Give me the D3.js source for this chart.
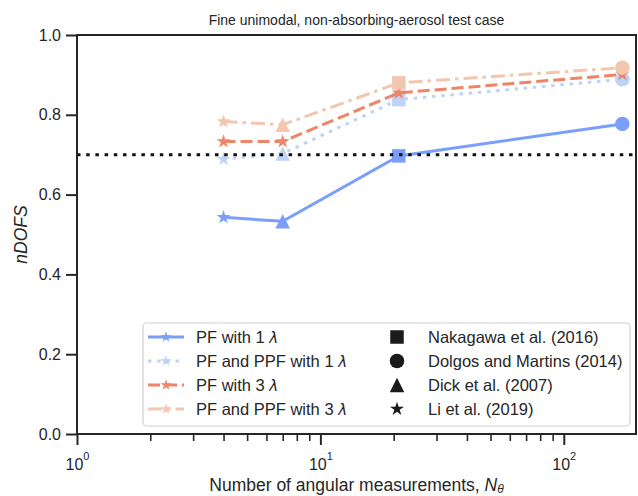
<!DOCTYPE html>
<html>
<head>
<meta charset="utf-8">
<script src="https://cdn.jsdelivr.net/npm/d3@7"></script>
<style>
  html, body { margin: 0; padding: 0; background: #ffffff; }
  svg { display: block; }
  text { font-family: "Liberation Sans", Arial, Helvetica, sans-serif; fill: #262626; }
</style>
</head>
<body>
<svg id="chart" width="638" height="496"></svg>
<script>
// ---------------- data ----------------
const nAngles = [4, 7, 21, 174];
const studyMarkers = ["star", "triangle", "square", "circle"];
const pf1 = [0.543, 0.533, 0.697, 0.777];
const pfppf1 = [0.689, 0.703, 0.838, 0.889];
const pf3 = [0.733, 0.733, 0.855, 0.901];
const pfppf3 = [0.783, 0.775, 0.880, 0.918];
const threshold = 0.7;
const yTicks = [0.0, 0.2, 0.4, 0.6, 0.8, 1.0];
const xMajorTicks = [1, 10, 100];
const xMinorTicks = [2,3,4,5,6,7,8,9,20,30,40,50,60,70,80,90];
const studyNames = ["Nakagawa et al. (2016)", "Dolgos and Martins (2014)", "Dick et al. (2007)", "Li et al. (2019)"];
const studyLegendMarkers = ["square", "circle", "triangle", "star"];
const titleText = "Fine unimodal, non-absorbing-aerosol test case";

const series = [
  { name: "PF with 1 ", values: pf1, color: "#7b9ff9", dash: null, markers: studyMarkers },
  { name: "PF and PPF with 1 ", values: pfppf1, color: "#bfd3f6", dash: "3.5,5.7", markers: studyMarkers },
  { name: "PF with 3 ", values: pf3, color: "#ee8468", dash: "12,5", markers: ["star","star","star","star"] },
  { name: "PF and PPF with 3 ", values: pfppf3, color: "#f3c6af", dash: "14,5,3.5,5", markers: studyMarkers }
];

// ---------------- layout ----------------
const svg = d3.select("#chart");
const L = 77, R = 636, T = 35, B = 434;
const x = d3.scaleLog().domain([1, 198]).range([L, R]);
const y = d3.scaleLinear().domain([0, 1]).range([B, T]);
const ink = "#262626";

function markerPath(type, s) {
  if (type === "square") return `M${-s/2},${-s/2}h${s}v${s}h${-s}Z`;
  if (type === "triangle") return `M0,${-s/2}L${s/2},${s/2}L${-s/2},${s/2}Z`;
  if (type === "circle") return d3.symbol(d3.symbolCircle, Math.PI * (s/2) * (s/2))();
  if (type === "star") { const Rr = s / 1.902; return d3.symbol(d3.symbolStar, Rr * Rr / 0.8908130915292852)(); }
}
const markerSize = { square: 13.5, triangle: 14.5, circle: 14.5, star: 14 };

// ---------------- data lines ----------------
const line = d3.line().x((d, i) => x(nAngles[i])).y(d => y(d));
const plot = svg.append("g");
series.forEach(s => {
  const g = plot.append("g");
  g.append("path")
    .attr("d", line(s.values))
    .attr("fill", "none")
    .attr("stroke", s.color)
    .attr("stroke-width", 3)
    .attr("stroke-dasharray", s.dash);
  g.selectAll("path.mk").data(s.values).join("path")
    .attr("class", "mk")
    .attr("transform", (d, i) => `translate(${x(nAngles[i])},${y(d)})`)
    .attr("d", (d, i) => markerPath(s.markers[i], markerSize[s.markers[i]]))
    .attr("fill", s.color);
});

// threshold line
plot.append("line")
  .attr("x1", L).attr("x2", R)
  .attr("y1", y(threshold)).attr("y2", y(threshold))
  .attr("stroke", "#111111").attr("stroke-width", 3)
  .attr("stroke-dasharray", "3.5,5.7");

// ---------------- axes ----------------
const yAxis = d3.axisLeft(y).tickValues(yTicks).tickFormat(d3.format(".1f")).tickSize(11).tickPadding(5);
const gy = svg.append("g").attr("transform", `translate(${L},0)`).call(yAxis);
gy.select(".domain").remove();
gy.selectAll("line").attr("stroke", ink).attr("stroke-width", 2);
gy.selectAll("text").attr("font-size", 16).attr("fill", ink).attr("font-family", "Liberation Sans, Arial, sans-serif");

const xMinor = d3.axisBottom(x).tickValues(xMinorTicks).tickFormat("").tickSize(7);
const gxm = svg.append("g").attr("transform", `translate(0,${B})`).call(xMinor);
gxm.select(".domain").remove();
gxm.selectAll("line").attr("stroke", ink).attr("stroke-width", 1.6);

const xAxis = d3.axisBottom(x).tickValues(xMajorTicks).tickFormat(() => "").tickSize(11);
const gx = svg.append("g").attr("transform", `translate(0,${B})`).call(xAxis);
gx.select(".domain").remove();
gx.selectAll("line").attr("stroke", ink).attr("stroke-width", 2);
gx.selectAll(".tick").each(function(d) {
  const t = d3.select(this).select("text")
    .attr("y", 36).attr("dy", null)
    .attr("font-size", 16).attr("fill", ink)
    .attr("font-family", "Liberation Sans, Arial, sans-serif")
    .attr("text-anchor", "middle");
  t.text(null);
  t.append("tspan").text("10");
  t.append("tspan").attr("font-size", 11).attr("dy", -10).text(String(Math.round(Math.log10(d))));
});

// spines
svg.append("rect")
  .attr("x", L).attr("y", T).attr("width", R - L).attr("height", B - T)
  .attr("fill", "none").attr("stroke", ink).attr("stroke-width", 2);

// ---------------- text ----------------
svg.append("text").attr("x", (L + R) / 2).attr("y", 25)
  .attr("text-anchor", "middle").attr("font-size", 14).text(titleText);

const xl = svg.append("text").attr("x", (L + R) / 2).attr("y", 491)
  .attr("text-anchor", "middle").attr("font-size", 17.5);
xl.append("tspan").text("Number of angular measurements, ");
xl.append("tspan").attr("font-style", "italic").text("N");
xl.append("tspan").attr("font-style", "italic").attr("font-size", 12).attr("dy", 2).text("θ");

svg.append("text")
  .attr("transform", `translate(27,${(T + B) / 2}) rotate(-90)`)
  .attr("text-anchor", "middle").attr("font-size", 17.5).attr("font-style", "italic")
  .text("nDOFS");

// ---------------- legend ----------------
const lg = svg.append("g");
lg.append("rect").attr("x", 143).attr("y", 323).attr("width", 487).attr("height", 103)
  .attr("rx", 4).attr("fill", "#ffffff").attr("fill-opacity", 0.85)
  .attr("stroke", "#d0d0d0").attr("stroke-width", 1.2);
const rowY = i => 337 + i * 24;
series.forEach((s, i) => {
  const g = lg.append("g").attr("transform", `translate(0,${rowY(i)})`);
  g.append("line").attr("x1", 148).attr("x2", 184).attr("y1", 0).attr("y2", 0)
    .attr("stroke", s.color).attr("stroke-width", 3).attr("stroke-dasharray", s.dash);
  g.append("path").attr("transform", "translate(166,0)").attr("d", markerPath("star", 11)).attr("fill", s.color);
  const t = g.append("text").attr("x", 196).attr("y", 6).attr("font-size", 16.5);
  t.append("tspan").text(s.name);
  t.append("tspan").attr("font-style", "italic").attr("font-family", "DejaVu Sans, sans-serif").attr("font-size", 15).text("λ");
});
studyNames.forEach((n, i) => {
  const g = lg.append("g").attr("transform", `translate(0,${rowY(i)})`);
  g.append("path").attr("transform", "translate(397,0)")
    .attr("d", markerPath(studyLegendMarkers[i], markerSize[studyLegendMarkers[i]]))
    .attr("fill", "#1a1a1a");
  g.append("text").attr("x", 428).attr("y", 6).attr("font-size", 16.5).text(n);
});
</script>
</body>
</html>
